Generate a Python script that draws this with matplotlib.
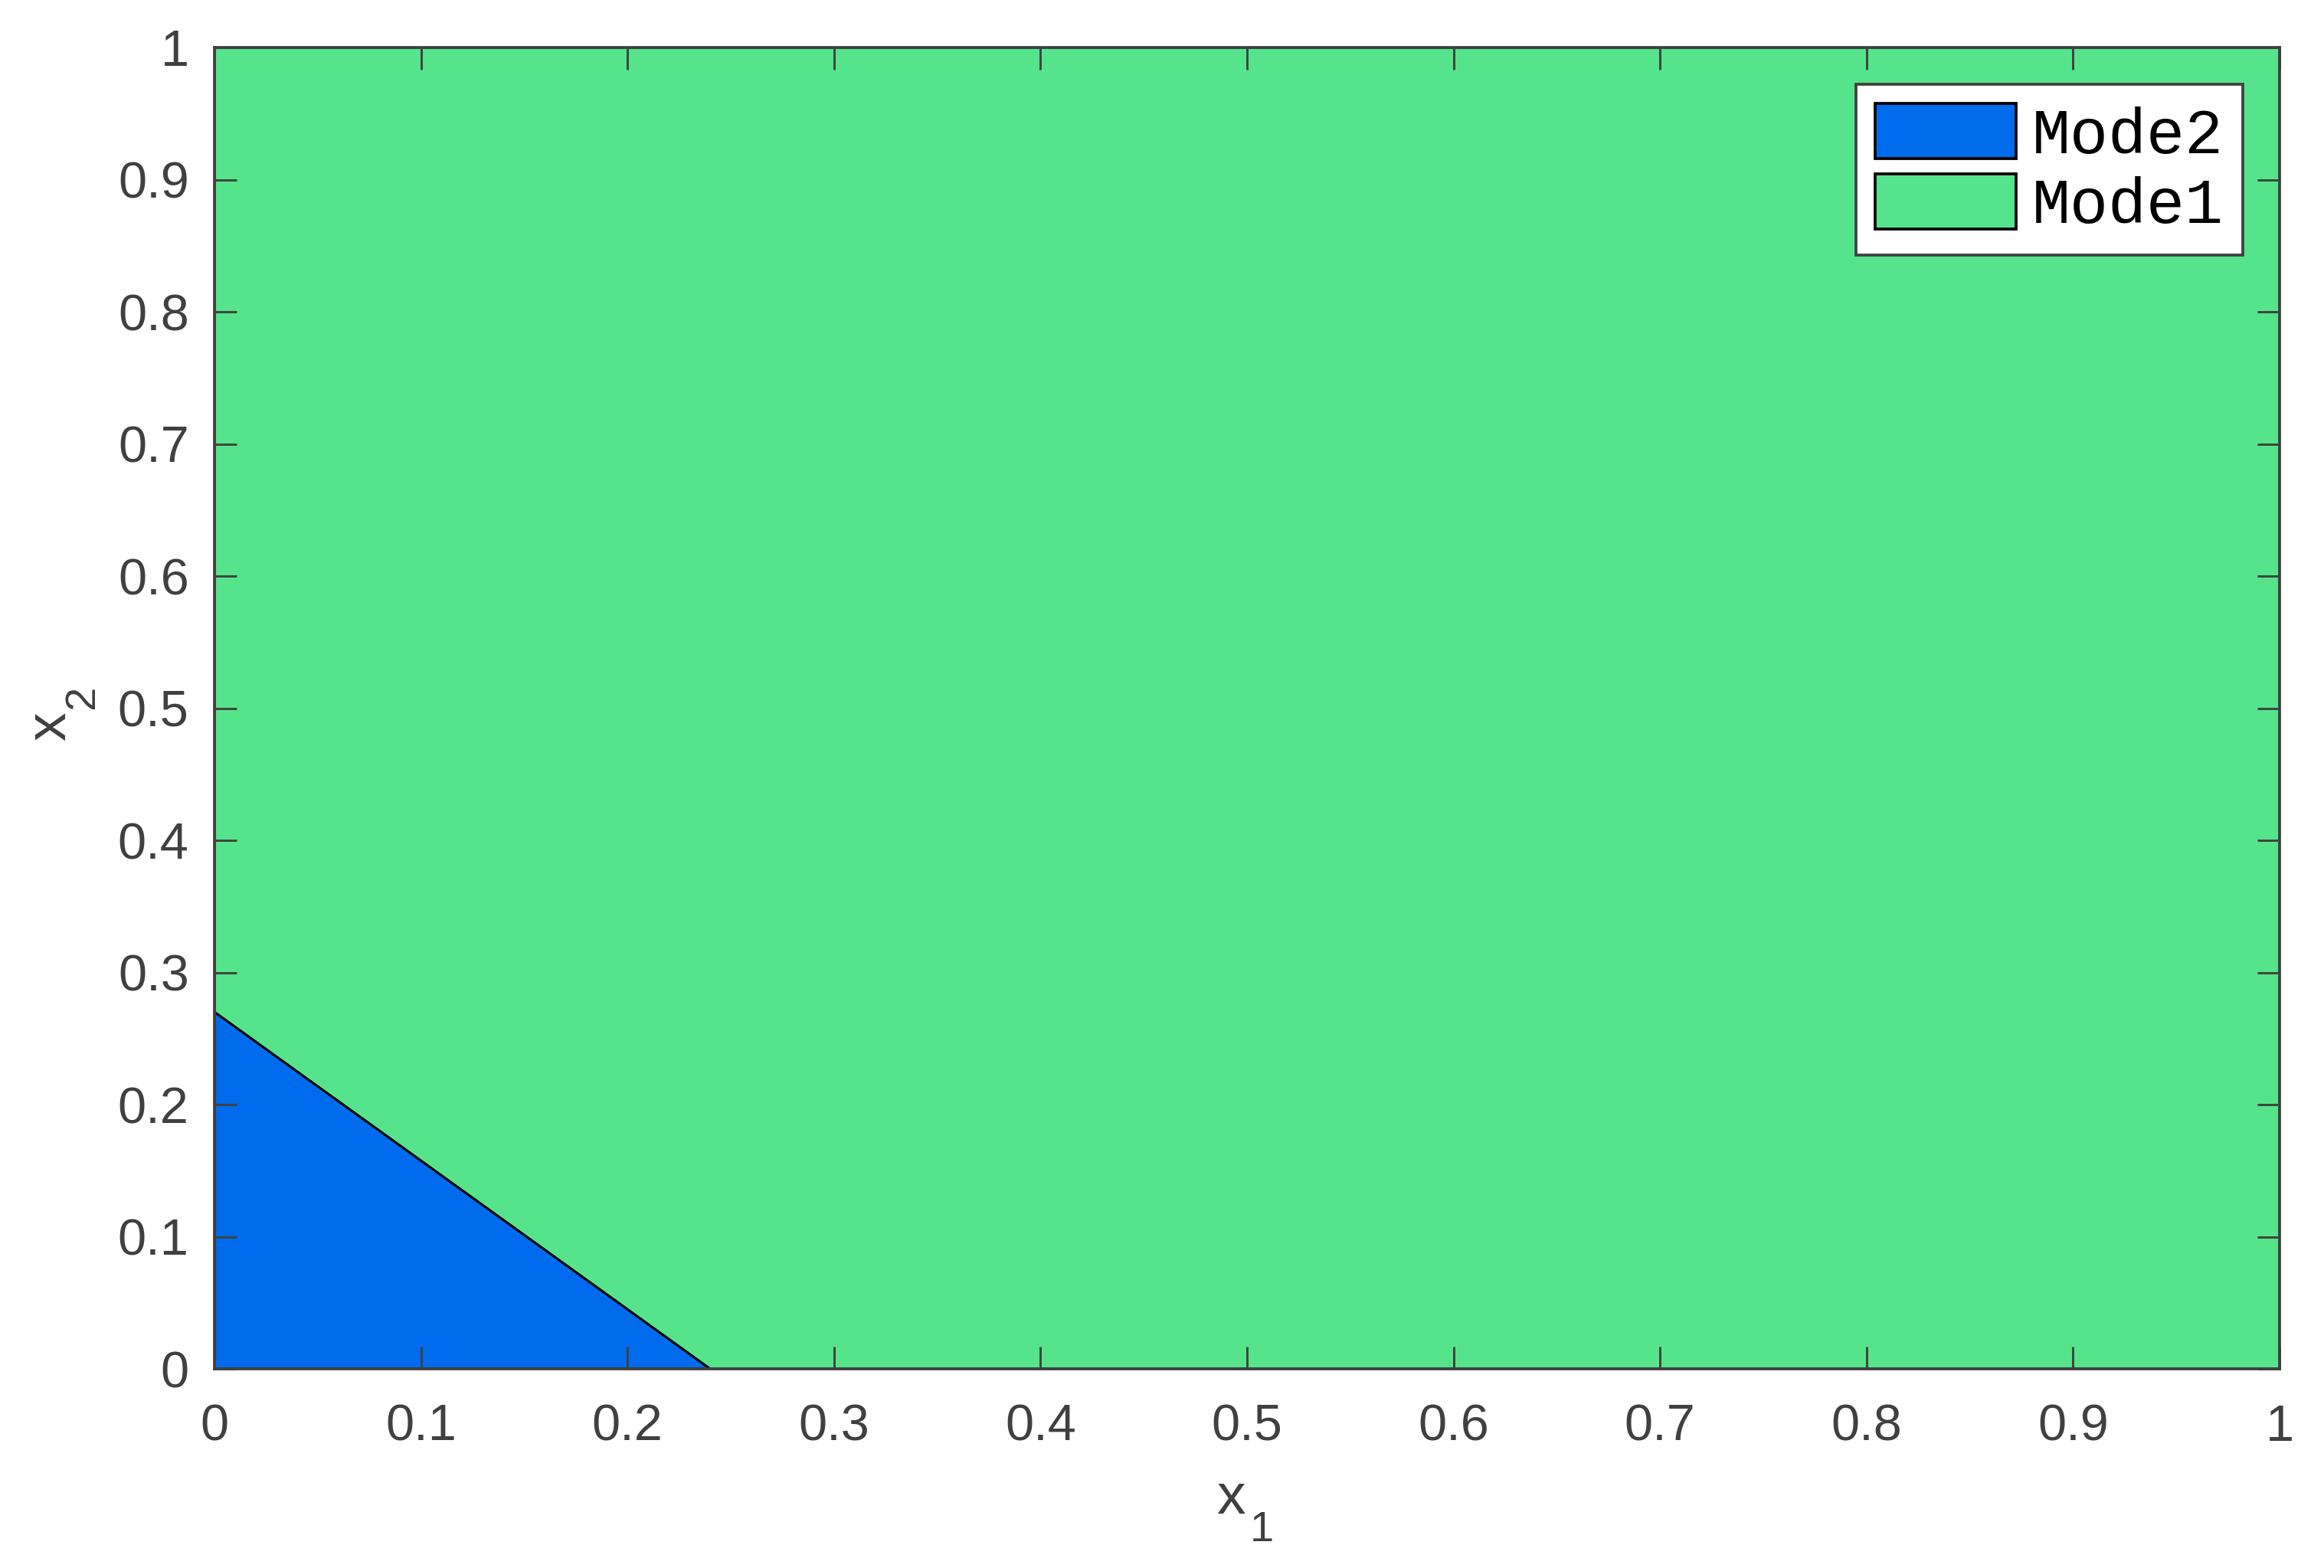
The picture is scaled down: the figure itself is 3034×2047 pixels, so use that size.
import matplotlib
matplotlib.use("Agg")
import matplotlib.pyplot as plt

# region vertices
mode1_x = [0, 0.24, 1, 1, 0]
mode1_y = [0.27, 0, 0, 1, 1]
mode2_x = [0, 0.24, 0]
mode2_y = [0, 0, 0.27]
labels = ["Mode2", "Mode1"]
ticks = [0, 0.1, 0.2, 0.3, 0.4, 0.5, 0.6, 0.7, 0.8, 0.9, 1]
tick_labels = ["0", "0.1", "0.2", "0.3", "0.4", "0.5", "0.6", "0.7", "0.8", "0.9", "1"]

plt.rcParams["font.family"] = ["Liberation Sans", "DejaVu Sans"]

gray = "#404040"
blue = "#006BEC"
green = "#55E48C"

fig = plt.figure(figsize=(3034 / 300, 2047 / 300), dpi=300)
ax = fig.add_axes([0.0923, 0.127, 0.8886, 0.8427])

p1 = ax.fill(mode1_x, mode1_y, facecolor=green, edgecolor="black", linewidth=0.7)[0]
p2 = ax.fill(mode2_x, mode2_y, facecolor=blue, edgecolor="black", linewidth=0.7)[0]

ax.set_xlim(0, 1)
ax.set_ylim(0, 1)
ax.set_xticks(ticks)
ax.set_xticklabels(tick_labels)
ax.set_yticks(ticks)
ax.set_yticklabels(tick_labels)
ax.tick_params(direction="in", length=7, width=0.7, colors=gray, labelsize=16,
               top=True, right=True)
ax.tick_params(axis="x", pad=11)
ax.tick_params(axis="y", pad=8)
for s in ax.spines.values():
    s.set_color(gray)
    s.set_linewidth(0.9)
    s.set_zorder(5)

# axis labels with a dropped subscript, matlab style
ax.text(0.492, -0.1096, "x", transform=ax.transAxes, fontsize=18, color=gray,
        ha="center", va="baseline")
ax.text(0.5015, -0.1304, "1", transform=ax.transAxes, fontsize=13.5, color=gray,
        ha="left", va="baseline")
ax.text(-0.0723, 0.4861, "x", transform=ax.transAxes, fontsize=18, color=gray,
        ha="center", va="baseline", rotation=90, rotation_mode="anchor")
ax.text(-0.0586, 0.4991, "2", transform=ax.transAxes, fontsize=13.5, color=gray,
        ha="left", va="baseline", rotation=90, rotation_mode="anchor")

leg = ax.legend([p2, p1], labels, loc="upper right", bbox_to_anchor=(0.982, 0.972),
                prop={"family": "Liberation Mono", "size": 20},
                fancybox=False, framealpha=1, edgecolor=gray,
                handlelength=2.2, handleheight=0.95, handletextpad=0.25,
                borderpad=0.3, labelspacing=0.12, borderaxespad=0)
leg.get_frame().set_linewidth(0.9)
for h in leg.legend_handles:
    h.set_linewidth(0.9)

fig.savefig("out.png", dpi=300, facecolor="white")
